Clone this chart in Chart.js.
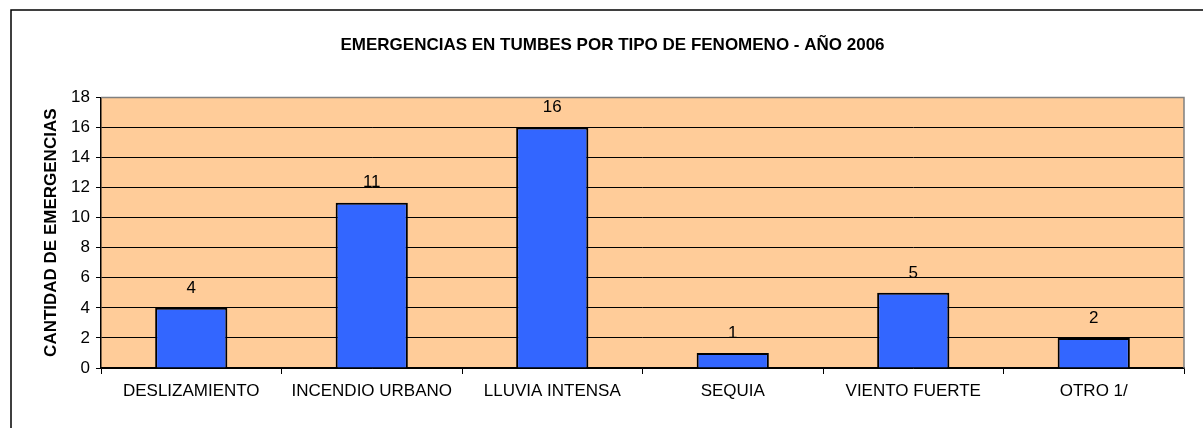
<!DOCTYPE html>
<html>
<head>
<meta charset="utf-8">
<script src="https://cdn.jsdelivr.net/npm/chart.js@4"></script>
<style>
  html, body { margin: 0; padding: 0; background: #fff; }
  #wrap { width: 1203px; height: 428px; }
</style>
</head>
<body>
<div id="wrap"><canvas id="emergChart" width="1203" height="428"></canvas></div>
<script>
// datos del grafico
const categorias = ['DESLIZAMIENTO', 'INCENDIO URBANO', 'LLUVIA INTENSA', 'SEQUIA', 'VIENTO FUERTE', 'OTRO 1/'];
const emergencias = [4, 11, 16, 1, 5, 2];
const tituloGrafico = 'EMERGENCIAS EN TUMBES POR TIPO DE FENOMENO - AÑO 2006';
const tituloEjeY = 'CANTIDAD DE EMERGENCIAS';
const ejeYMin = 0, ejeYMax = 18, ejeYPaso = 2;

const fuente = 'Arial, "Liberation Sans", sans-serif';

// fondo del area, marco exterior y etiquetas de valores
const decoracion = {
    id: 'decoracion',
    beforeDraw(chart) {
        const { ctx, chartArea: a } = chart;
        ctx.save();
        ctx.fillStyle = '#fff';
        ctx.fillRect(0, 0, chart.width, chart.height);
        // marco exterior (solo izquierda y arriba se ven)
        ctx.strokeStyle = '#000';
        ctx.lineWidth = 1.5;
        ctx.beginPath();
        ctx.moveTo(11, chart.height);
        ctx.lineTo(11, 10);
        ctx.lineTo(chart.width, 10);
        ctx.stroke();
        ctx.fillStyle = '#FFCC99';
        ctx.fillRect(a.left, a.top, a.right - a.left, a.bottom - a.top);
        ctx.restore();
    },
    afterDatasetsDraw(chart) {
        const { ctx, chartArea: a } = chart;
        ctx.save();
        // borde gris del area de trazado (arriba y derecha)
        ctx.strokeStyle = '#808080';
        ctx.lineWidth = 1.5;
        ctx.beginPath();
        ctx.moveTo(a.left, a.top);
        ctx.lineTo(a.right, a.top);
        ctx.lineTo(a.right, a.bottom);
        ctx.stroke();
        // etiquetas de datos
        ctx.fillStyle = '#000';
        ctx.font = '17px ' + fuente;
        ctx.textAlign = 'center';
        ctx.textBaseline = 'middle';
        const meta = chart.getDatasetMeta(0);
        meta.data.forEach((bar, i) => {
            ctx.fillText(String(emergencias[i]), bar.x, bar.y - 20);
        });
        ctx.restore();
    }
};

const ctx = document.getElementById('emergChart').getContext('2d');
new Chart(ctx, {
    type: 'bar',
    data: {
        labels: categorias,
        datasets: [{
            data: emergencias,
            backgroundColor: '#3366FF',
            borderColor: '#000',
            borderWidth: 2,
            barPercentage: 0.4,
            categoryPercentage: 1.0
        }]
    },
    options: {
        responsive: false,
        animation: false,
        layout: { padding: { left: 41, right: 19, top: 0, bottom: 0 } },
        plugins: {
            legend: { display: false },
            tooltip: { enabled: false },
            title: {
                display: true,
                text: tituloGrafico,
                color: '#000',
                font: { family: fuente, size: 17, weight: 'bold' },
                padding: { top: 35, bottom: 42 }
            }
        },
        scales: {
            x: {
                grid: {
                    offset: true,
                    drawOnChartArea: false,
                    color: '#000',
                    tickLength: 6
                },
                border: { color: '#000', width: 1.5 },
                ticks: {
                    color: '#000',
                    font: { family: fuente, size: 17 },
                    padding: 7,
                    maxRotation: 0,
                    autoSkip: false
                },
                afterFit(scale) { scale.height = 60; }
            },
            y: {
                min: ejeYMin,
                max: ejeYMax,
                ticks: {
                    stepSize: ejeYPaso,
                    color: '#000',
                    font: { family: fuente, size: 17 },
                    padding: 6
                },
                grid: {
                    color: '#000',
                    lineWidth: 1,
                    tickLength: 5
                },
                border: { color: '#000', width: 1.5 },
                title: {
                    display: true,
                    text: tituloEjeY,
                    color: '#000',
                    font: { family: fuente, size: 17, weight: 'bold' },
                    padding: { top: 0, bottom: 0 }
                },
                afterFit(scale) { scale.width = 60; }
            }
        }
    },
    plugins: [decoracion]
});
</script>
</body>
</html>
